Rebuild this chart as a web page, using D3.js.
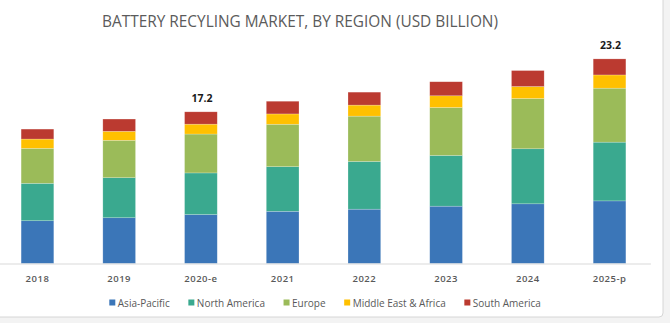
<!DOCTYPE html>
<html>
<head>
<meta charset="utf-8">
<script src="https://cdn.jsdelivr.net/npm/d3@7"></script>
<style>
  html, body { margin: 0; padding: 0; background: #f3f3f3; }
  svg { display: block; }
</style>
</head>
<body>
<svg id="chart" width="670" height="323"></svg>
<script>
// Battery recycling market by region, USD billion
const years = ["2018", "2019", "2020-e", "2021", "2022", "2023", "2024", "2025-p"];
const regions = ["Asia-Pacific", "North America", "Europe", "Middle East & Africa", "South America"];
const asiaPacific      = [4.85, 5.19, 5.55, 5.92, 6.16, 6.50, 6.77, 7.10];
const northAmerica     = [4.24, 4.54, 4.72, 5.06, 5.41, 5.75, 6.24, 6.66];
const europe           = [3.97, 4.24, 4.41, 4.81, 5.14, 5.44, 5.70, 6.12];
const middleEastAfrica = [1.05, 1.02, 1.12, 1.17, 1.25, 1.33, 1.36, 1.50];
const southAmerica     = [1.13, 1.39, 1.40, 1.44, 1.47, 1.59, 1.81, 1.82];
const labelledYears = ["2020-e", "2025-p"];
const colors = ["#3b76b8", "#3aa98f", "#9bbb59", "#ffc000", "#bb3a30"];

const seriesValues = [asiaPacific, northAmerica, europe, middleEastAfrica, southAmerica];
const rows = years.map((yr, i) => {
  const r = { year: yr };
  regions.forEach((reg, k) => { r[reg] = seriesValues[k][i]; });
  return r;
});
const totals = rows.map(r => d3.sum(regions, k => r[k]));

const svg = d3.select("#chart");

// card frame
svg.append("rect")
  .attr("x", -5).attr("y", -5)
  .attr("width", 668).attr("height", 322)
  .attr("rx", 4)
  .attr("fill", "#ffffff")
  .attr("stroke", "#d6d6d6")
  .attr("stroke-width", 1);

const x = d3.scaleBand()
  .domain(years)
  .range([-3.4, 650.4])
  .paddingInner(0.6)
  .paddingOuter(0.3);

const y = d3.scaleLinear()
  .domain([0, d3.max(totals)])
  .range([263.5, 58.9]);

const color = d3.scaleOrdinal().domain(regions).range(colors);

// title
svg.append("text")
  .attr("x", 300).attr("y", 27)
  .attr("text-anchor", "middle")
  .attr("textLength", 396)
  .attr("lengthAdjust", "spacingAndGlyphs")
  .style("font-family", "'Open Sans', 'Liberation Sans', sans-serif")
  .style("font-size", "16px")
  .style("fill", "#5b5b5b")
  .text("BATTERY RECYLING MARKET, BY REGION (USD BILLION)");

// stacked bars
const stacked = d3.stack().keys(regions)(rows);
svg.append("g")
  .selectAll("g")
  .data(stacked)
  .join("g")
  .attr("fill", d => color(d.key))
  .selectAll("rect")
  .data(d => d)
  .join("rect")
  .attr("x", d => x(d.data.year))
  .attr("width", x.bandwidth())
  .attr("y", d => y(d[1]))
  .attr("height", d => y(d[0]) - y(d[1]))
  .attr("stroke", "#ffffff")
  .attr("stroke-opacity", 0.35)
  .attr("stroke-width", 0.6);

// x axis
const axis = svg.append("g")
  .attr("transform", `translate(0,${y(0)})`)
  .call(d3.axisBottom(x).tickSize(0).tickSizeOuter(0));
axis.select(".domain").attr("stroke", "#d9d9d9").attr("stroke-width", 1);
axis.selectAll("text")
  .attr("y", 18.5)
  .attr("dy", null)
  .style("font-family", "'Open Sans', sans-serif")
  .style("font-size", "9.5px")
  .style("font-weight", 600)
  .style("letter-spacing", "0.5px")
  .style("fill", "#595959");

// total labels
svg.append("g")
  .selectAll("text")
  .data(rows.map((r, i) => ({ year: r.year, total: totals[i] })).filter(d => labelledYears.includes(d.year)))
  .join("text")
  .attr("x", d => x(d.year) + x.bandwidth() / 2 + 1)
  .attr("y", d => y(d.total) - 9.5)
  .attr("text-anchor", "middle")
  .style("font-family", "'Open Sans', sans-serif")
  .style("font-size", "10.5px")
  .style("font-weight", 700)
  .style("fill", "#1a1a1a")
  .text(d => d3.format(".1f")(d.total));

// legend
const legend = svg.append("g");
let lx = 109.3;
regions.forEach(reg => {
  const item = legend.append("g").attr("transform", `translate(${lx},0)`);
  item.append("rect")
    .attr("x", 0).attr("y", 299.5)
    .attr("width", 6).attr("height", 6)
    .attr("fill", color(reg));
  const t = item.append("text")
    .attr("x", 8.5).attr("y", 306.5)
    .style("font-family", "'Open Sans', sans-serif")
    .style("font-size", "10px")
    .style("fill", "#595959")
    .text(reg);
  lx += 8.5 + t.node().getComputedTextLength() + 18.6;
});
</script>
</body>
</html>
